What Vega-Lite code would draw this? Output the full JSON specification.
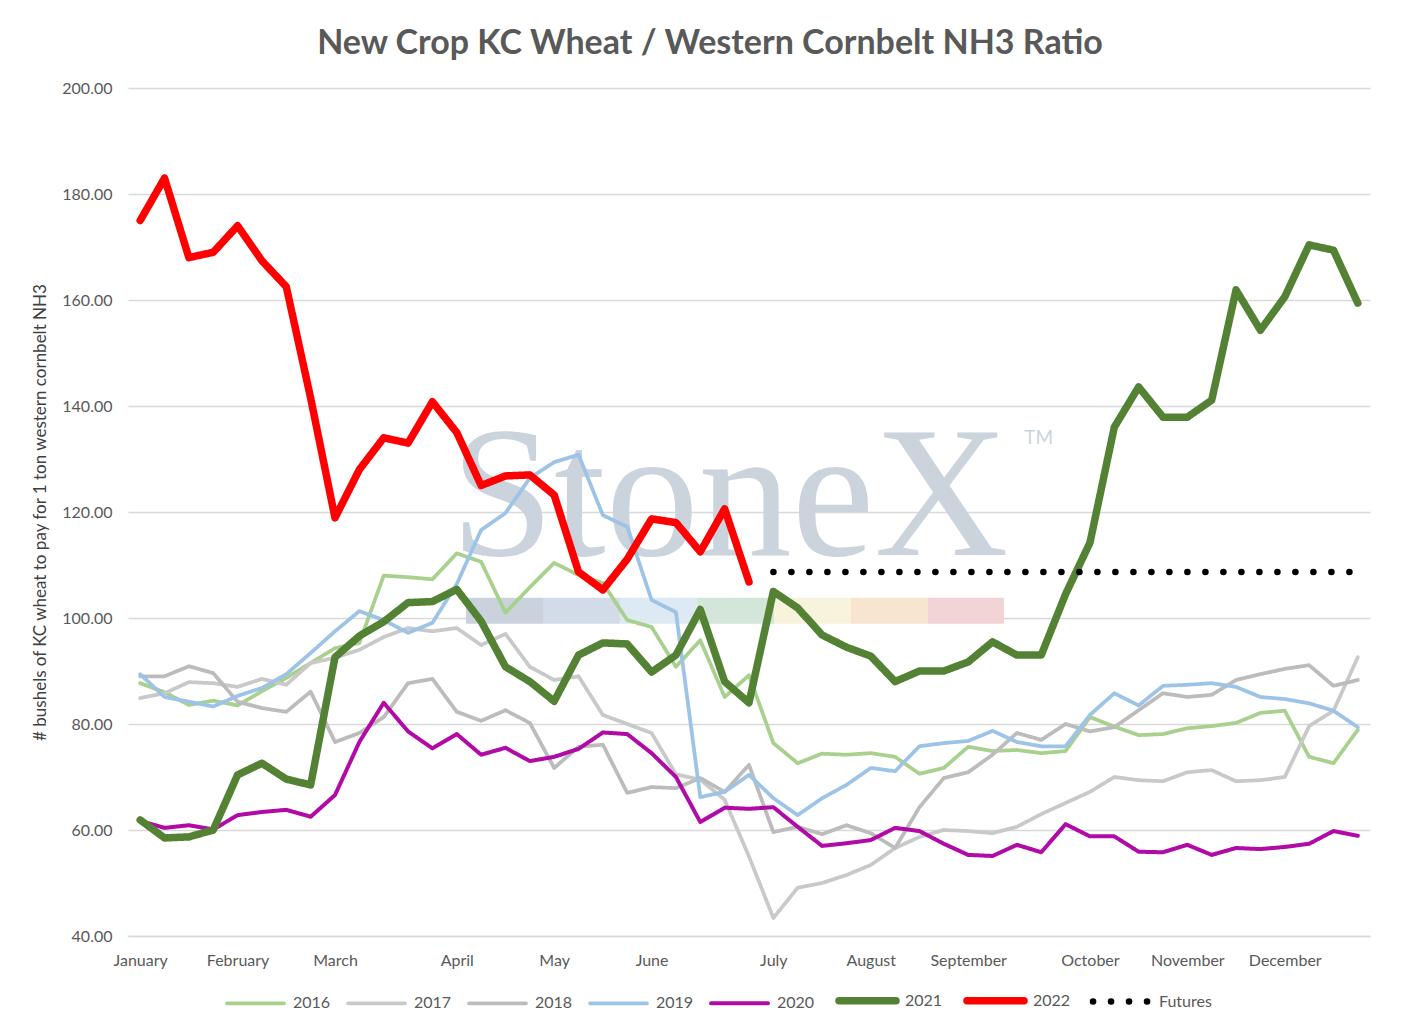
{
  "$schema": "https://vega.github.io/schema/vega-lite/v6.json",
  "autosize": {"type": "none"},
  "padding": {"left": 128, "top": 88, "right": 50, "bottom": 97},
  "width": 1242,
  "height": 848,
  "background": "white",
  "title": {
    "text": "New Crop KC Wheat / Western Cornbelt NH3 Ratio",
    "font": "Lato",
    "fontSize": 34,
    "fontWeight": "bold",
    "color": "#595959",
    "anchor": "middle",
    "dx": -39,
    "offset": 19
  },
  "layer": [
    {
      "data": {"values": [{}]},
      "mark": {"type": "text", "text": "StoneX", "font": "Liberation Serif", "fontSize": 186, "color": "#cbd3dd", "align": "center", "baseline": "alphabetic"},
      "encoding": {"x": {"datum": 24.2, "type": "quantitative"}, "y": {"datum": 111.9, "type": "quantitative"}}
    },
    {
      "data": {"values": [{}]},
      "mark": {"type": "text", "text": "TM", "font": "Lato", "fontSize": 19, "color": "#cbd3dd", "align": "center", "baseline": "middle"},
      "encoding": {"x": {"datum": 36.9, "type": "quantitative"}, "y": {"datum": 134, "type": "quantitative"}}
    },
    {"data": {"values": [{}]}, "mark": {"type": "rect", "color": "#c9d2dd"}, "encoding": {"x": {"datum": 13.38, "type": "quantitative"}, "x2": {"datum": 16.54}, "y": {"datum": 103.8, "type": "quantitative"}, "y2": {"datum": 98.9}}},
    {"data": {"values": [{}]}, "mark": {"type": "rect", "color": "#d1dce8"}, "encoding": {"x": {"datum": 16.54, "type": "quantitative"}, "x2": {"datum": 19.7}, "y": {"datum": 103.8, "type": "quantitative"}, "y2": {"datum": 98.9}}},
    {"data": {"values": [{}]}, "mark": {"type": "rect", "color": "#dde9f3"}, "encoding": {"x": {"datum": 19.7, "type": "quantitative"}, "x2": {"datum": 22.87}, "y": {"datum": 103.8, "type": "quantitative"}, "y2": {"datum": 98.9}}},
    {"data": {"values": [{}]}, "mark": {"type": "rect", "color": "#d4e5d9"}, "encoding": {"x": {"datum": 22.87, "type": "quantitative"}, "x2": {"datum": 26.03}, "y": {"datum": 103.8, "type": "quantitative"}, "y2": {"datum": 98.9}}},
    {"data": {"values": [{}]}, "mark": {"type": "rect", "color": "#f7f3dc"}, "encoding": {"x": {"datum": 26.03, "type": "quantitative"}, "x2": {"datum": 29.19}, "y": {"datum": 103.8, "type": "quantitative"}, "y2": {"datum": 98.9}}},
    {"data": {"values": [{}]}, "mark": {"type": "rect", "color": "#f8e5cf"}, "encoding": {"x": {"datum": 29.19, "type": "quantitative"}, "x2": {"datum": 32.35}, "y": {"datum": 103.8, "type": "quantitative"}, "y2": {"datum": 98.9}}},
    {"data": {"values": [{}]}, "mark": {"type": "rect", "color": "#f2d3d6"}, "encoding": {"x": {"datum": 32.35, "type": "quantitative"}, "x2": {"datum": 35.47}, "y": {"datum": 103.8, "type": "quantitative"}, "y2": {"datum": 98.9}}},
    {
      "data": {
        "values": [
          {"w": 0, "2016": 87.7, "2017": 84.9, "2018": 89.0, "2019": 89.4, "2020": 61.7, "2021": 61.9, "2022": 175.0},
          {"w": 1, "2016": 86.0, "2017": 85.8, "2018": 89.0, "2019": 85.1, "2020": 60.4, "2021": 58.5, "2022": 183.0},
          {"w": 2, "2016": 83.6, "2017": 87.9, "2018": 90.9, "2019": 84.2, "2020": 60.9, "2021": 58.7, "2022": 168.0},
          {"w": 3, "2016": 84.4, "2017": 87.7, "2018": 89.6, "2019": 83.3, "2020": 60.1, "2021": 60.0, "2022": 169.0},
          {"w": 4, "2016": 83.5, "2017": 87.0, "2018": 84.2, "2019": 85.3, "2020": 62.8, "2021": 70.4, "2022": 174.0},
          {"w": 5, "2016": 86.2, "2017": 88.5, "2018": 83.0, "2019": 86.8, "2020": 63.4, "2021": 72.6, "2022": 167.4},
          {"w": 6, "2016": 88.7, "2017": 87.4, "2018": 82.3, "2019": 89.4, "2020": 63.8, "2021": 69.6, "2022": 162.5},
          {"w": 7, "2016": 91.5, "2017": 91.5, "2018": 86.1, "2019": 93.4, "2020": 62.5, "2021": 68.5, "2022": 141.5},
          {"w": 8, "2016": 94.3, "2017": 92.5, "2018": 76.6, "2019": 97.5, "2020": 66.6, "2021": 92.6, "2022": 118.9},
          {"w": 9, "2016": 95.3, "2017": 94.0, "2018": 78.3, "2019": 101.3, "2020": 76.6, "2021": 96.6, "2022": 128.0},
          {"w": 10, "2016": 108.0, "2017": 96.4, "2018": 81.3, "2019": 99.6, "2020": 84.0, "2021": 99.3, "2022": 134.0},
          {"w": 11, "2016": 107.7, "2017": 98.1, "2018": 87.7, "2019": 97.2, "2020": 78.6, "2021": 102.9, "2022": 133.0},
          {"w": 12, "2016": 107.3, "2017": 97.5, "2018": 88.5, "2019": 99.1, "2020": 75.4, "2021": 103.1, "2022": 140.8},
          {"w": 13, "2016": 112.2, "2017": 98.1, "2018": 82.3, "2019": 106.4, "2020": 78.1, "2021": 105.4, "2022": 135.0},
          {"w": 14, "2016": 110.6, "2017": 94.9, "2018": 80.6, "2019": 116.6, "2020": 74.2, "2021": 99.4, "2022": 125.0},
          {"w": 15, "2016": 101.0, "2017": 97.0, "2018": 82.6, "2019": 119.8, "2020": 75.5, "2021": 90.8, "2022": 126.8},
          {"w": 16, "2016": 105.8, "2017": 90.8, "2018": 80.2, "2019": 126.4, "2020": 73.0, "2021": 88.0, "2022": 127.0},
          {"w": 17, "2016": 110.4, "2017": 88.3, "2018": 71.7, "2019": 129.4, "2020": 73.8, "2021": 84.3, "2022": 123.2},
          {"w": 18, "2016": 108.1, "2017": 89.0, "2018": 75.7, "2019": 130.8, "2020": 75.3, "2021": 93.0, "2022": 108.7},
          {"w": 19, "2016": 106.6, "2017": 81.7, "2018": 76.1, "2019": 119.4, "2020": 78.4, "2021": 95.3, "2022": 105.3},
          {"w": 20, "2016": 99.6, "2017": 80.0, "2018": 67.0, "2019": 117.2, "2020": 78.1, "2021": 95.1, "2022": 111.1},
          {"w": 21, "2016": 98.3, "2017": 78.3, "2018": 68.1, "2019": 103.4, "2020": 74.5, "2021": 89.8, "2022": 118.7},
          {"w": 22, "2016": 90.8, "2017": 70.5, "2018": 67.9, "2019": 101.1, "2020": 70.0, "2021": 93.0, "2022": 118.0},
          {"w": 23, "2016": 95.8, "2017": 69.5, "2018": 69.8, "2019": 66.2, "2020": 61.5, "2021": 101.6, "2022": 112.5},
          {"w": 24, "2016": 85.1, "2017": 65.7, "2018": 67.2, "2019": 67.2, "2020": 64.2, "2021": 88.0, "2022": 120.6},
          {"w": 25, "2016": 89.2, "2017": 55.0, "2018": 72.3, "2019": 70.4, "2020": 64.0, "2021": 84.0, "2022": 106.8},
          {"w": 26, "2016": 76.4, "2017": 43.4, "2018": 59.6, "2019": 66.0, "2020": 64.3, "2021": 105.0, "Futures": 108.7},
          {"w": 27, "2016": 72.6, "2017": 49.1, "2018": 60.6, "2019": 62.8, "2020": 60.6, "2021": 101.9, "Futures": 108.7},
          {"w": 28, "2016": 74.4, "2017": 50.0, "2018": 59.2, "2019": 66.0, "2020": 57.0, "2021": 96.8, "Futures": 108.7},
          {"w": 29, "2016": 74.2, "2017": 51.5, "2018": 60.9, "2019": 68.5, "2020": 57.5, "2021": 94.5, "Futures": 108.7},
          {"w": 30, "2016": 74.5, "2017": 53.4, "2018": 59.4, "2019": 71.7, "2020": 58.1, "2021": 92.8, "Futures": 108.7},
          {"w": 31, "2016": 73.8, "2017": 56.6, "2018": 56.6, "2019": 71.1, "2020": 60.4, "2021": 88.0, "Futures": 108.7},
          {"w": 32, "2016": 70.6, "2017": 58.7, "2018": 64.3, "2019": 75.8, "2020": 59.8, "2021": 90.0, "Futures": 108.7},
          {"w": 33, "2016": 71.7, "2017": 60.0, "2018": 69.8, "2019": 76.4, "2020": 57.4, "2021": 90.0, "Futures": 108.7},
          {"w": 34, "2016": 75.7, "2017": 59.8, "2018": 70.9, "2019": 76.8, "2020": 55.3, "2021": 91.7, "Futures": 108.7},
          {"w": 35, "2016": 74.9, "2017": 59.4, "2018": 74.2, "2019": 78.7, "2020": 55.1, "2021": 95.5, "Futures": 108.7},
          {"w": 36, "2016": 75.1, "2017": 60.6, "2018": 78.3, "2019": 76.6, "2020": 57.2, "2021": 93.0, "Futures": 108.7},
          {"w": 37, "2016": 74.5, "2017": 63.0, "2018": 77.0, "2019": 75.8, "2020": 55.8, "2021": 93.0, "Futures": 108.7},
          {"w": 38, "2016": 74.9, "2017": 65.1, "2018": 80.0, "2019": 75.8, "2020": 61.1, "2021": 104.5, "Futures": 108.7},
          {"w": 39, "2016": 81.3, "2017": 67.2, "2018": 78.6, "2019": 81.7, "2020": 58.8, "2021": 114.2, "Futures": 108.7},
          {"w": 40, "2016": 79.5, "2017": 70.0, "2018": 79.4, "2019": 85.8, "2020": 58.8, "2021": 136.0, "Futures": 108.7},
          {"w": 41, "2016": 77.9, "2017": 69.4, "2018": 82.6, "2019": 83.5, "2020": 55.9, "2021": 143.6, "Futures": 108.7},
          {"w": 42, "2016": 78.1, "2017": 69.2, "2018": 85.8, "2019": 87.2, "2020": 55.8, "2021": 137.9, "Futures": 108.7},
          {"w": 43, "2016": 79.2, "2017": 70.9, "2018": 85.1, "2019": 87.4, "2020": 57.2, "2021": 137.9, "Futures": 108.7},
          {"w": 44, "2016": 79.6, "2017": 71.3, "2018": 85.5, "2019": 87.7, "2020": 55.3, "2021": 141.1, "Futures": 108.7},
          {"w": 45, "2016": 80.2, "2017": 69.2, "2018": 88.3, "2019": 87.0, "2020": 56.6, "2021": 161.9, "Futures": 108.7},
          {"w": 46, "2016": 82.1, "2017": 69.4, "2018": 89.4, "2019": 85.1, "2020": 56.4, "2021": 154.3, "Futures": 108.7},
          {"w": 47, "2016": 82.5, "2017": 70.0, "2018": 90.4, "2019": 84.7, "2020": 56.8, "2021": 160.6, "Futures": 108.7},
          {"w": 48, "2016": 73.8, "2017": 79.6, "2018": 91.1, "2019": 83.9, "2020": 57.4, "2021": 170.4, "Futures": 108.7},
          {"w": 49, "2016": 72.6, "2017": 82.5, "2018": 87.2, "2019": 82.5, "2020": 59.8, "2021": 169.4, "Futures": 108.7},
          {"w": 50, "2016": 78.9, "2017": 92.6, "2018": 88.3, "2019": 79.4, "2020": 58.9, "2021": 159.4, "Futures": 108.7}
        ]
      },
      "transform": [
        {"fold": ["2016", "2017", "2018", "2019", "2020", "2021", "2022", "Futures"], "as": ["series", "value"]},
        {"filter": "isValid(datum.value)"}
      ],
      "mark": {"type": "line", "strokeCap": "round", "strokeJoin": "round"},
      "encoding": {
        "x": {"field": "w", "type": "quantitative"},
        "y": {"field": "value", "type": "quantitative"},
        "color": {
          "field": "series", "type": "nominal",
          "scale": {
            "domain": ["2016", "2017", "2018", "2019", "2020", "2021", "2022", "Futures"],
            "range": ["#a9d18e", "#c9c9c9", "#bcbcbc", "#9dc3e6", "#b10aa6", "#548235", "#ff0000", "#000000"]
          },
          "legend": {
            "title": null, "orient": "none", "legendX": 95, "legendY": 880, "direction": "horizontal", "columns": 8,
            "symbolType": "stroke", "symbolSize": 3249, "labelOffset": 5, "columnPadding": 9,
            "labelFont": "Lato", "labelFontSize": 16, "labelColor": "#595959",
            "encode": {"symbols": {"update": {"strokeCap": {"value": "round"}}}}
          }
        },
        "strokeWidth": {
          "field": "series", "type": "nominal",
          "scale": {
            "type": "ordinal",
            "domain": ["2016", "2017", "2018", "2019", "2020", "2021", "2022", "Futures"],
            "range": [3.75, 3.75, 3.75, 3.75, 4, 7.5, 7.5, 6.5]
          }
        },
        "strokeDash": {
          "field": "series", "type": "nominal",
          "scale": {
            "domain": ["2016", "2017", "2018", "2019", "2020", "2021", "2022", "Futures"],
            "range": [[1, 0], [1, 0], [1, 0], [1, 0], [1, 0], [1, 0], [1, 0], [0.1, 17.9]]
          }
        }
      }
    }
  ],
  "encoding": {
    "x": {
      "type": "quantitative",
      "scale": {"domain": [-0.5, 50.5], "nice": false, "zero": false},
      "axis": {
        "title": null, "grid": false, "ticks": false, "domainColor": "#d9d9d9", "domainWidth": 1.3,
        "values": [0, 4, 8, 13, 17, 21, 26, 30, 34, 39, 43, 47],
        "labelExpr": "['January','February','March','April','May','June','July','August','September','October','November','December'][indexof([0,4,8,13,17,21,26,30,34,39,43,47], datum.value)]",
        "labelFont": "Lato", "labelFontSize": 16, "labelColor": "#595959", "labelPadding": 16
      }
    },
    "y": {
      "type": "quantitative",
      "scale": {"domain": [40, 200], "nice": false, "zero": false},
      "axis": {
        "title": "# bushels of KC wheat to pay for 1 ton western cornbelt NH3",
        "titleFont": "Lato", "titleFontSize": 17, "titleFontWeight": "normal", "titleColor": "#404040", "titlePadding": 12,
        "values": [40, 60, 80, 100, 120, 140, 160, 180, 200], "format": ".2f",
        "grid": true, "gridColor": "#d9d9d9", "gridWidth": 1.3, "domain": false, "ticks": false,
        "labelFont": "Lato", "labelFontSize": 16, "labelColor": "#595959", "labelPadding": 16
      }
    }
  },
  "config": {"view": {"stroke": null}}
}
